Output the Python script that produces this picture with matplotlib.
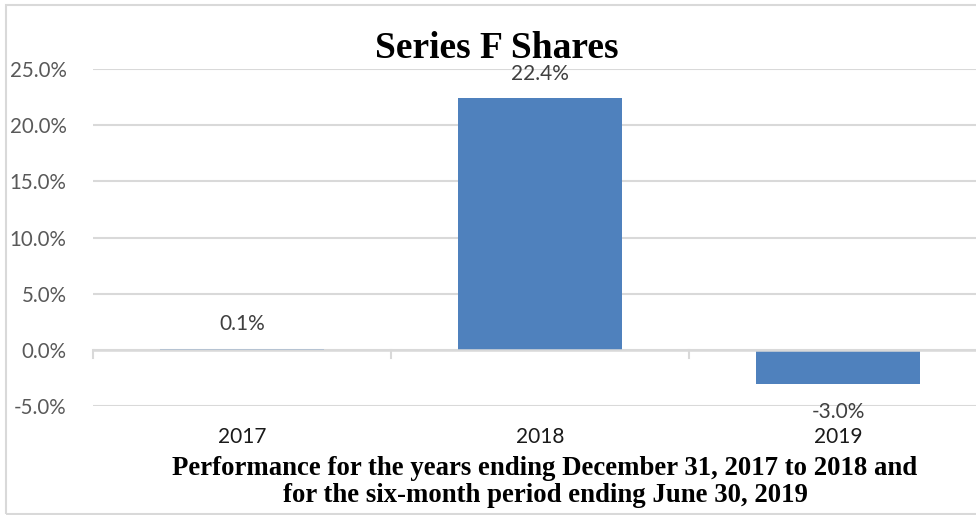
import matplotlib
matplotlib.use("Agg")
import matplotlib.pyplot as plt
from matplotlib.patches import Rectangle
from matplotlib.ticker import FuncFormatter, MultipleLocator

categories = ["2017", "2018", "2019"]
values = [0.1, 22.4, -3.0]
labels = ["0.1%", "22.4%", "-3.0%"]
title = "Series F Shares"
xlabel = "Performance for the years ending December 31, 2017 to 2018 and\nfor the six-month period ending June 30, 2019"

W, H = 976, 515
fig = plt.figure(figsize=(W / 100, H / 100), dpi=100)
fig.patch.set_facecolor("white")

# figure border
fig.add_artist(Rectangle((6 / W, 1 - 514 / H), (W + 20) / W, (514 - 5) / H,
                         transform=fig.transFigure, fill=False,
                         edgecolor="#D9D9D9", linewidth=1.5))

left = 93 / W
right = 987 / W
bottom = 1 - 406 / H
top = 1 - 69 / H
ax = fig.add_axes([left, bottom, right - left, top - bottom])

grid_color = "#D9D9D9"
tick_font = "Lato"
x = list(range(len(categories)))
ax.bar(x, values, width=0.55, color="#4F81BD", zorder=3)
ax.set_xlim(-0.5, 2.5)
ax.set_ylim(-5, 25)
ax.yaxis.set_major_locator(MultipleLocator(5))
ax.yaxis.set_major_formatter(FuncFormatter(lambda v, p: f"{v:.1f}%"))
ax.grid(axis="y", color=grid_color, linewidth=1.5, zorder=0)
for s in ax.spines.values():
    s.set_visible(False)
ax.tick_params(axis="y", length=0, pad=19, labelsize=14.8, labelcolor="#595959")
for t in ax.get_yticklabels():
    t.set_fontfamily(tick_font)

# zero axis line with category boundary ticks
ax.axhline(0, color=grid_color, linewidth=1.8, zorder=4)
for b in [-0.5, 0.5, 1.5, 2.5]:
    ax.plot([b, b], [0, -0.75], color=grid_color, linewidth=1.5, zorder=2, clip_on=False)

ax.set_xticks([])
trans = ax.get_xaxis_transform()
for i, c in enumerate(categories):
    ax.text(i, 1 - (437 - 69) / (406 - 69), c, transform=trans, ha="center", va="center",
            fontsize=15, color="#1a1a1a", family=tick_font)

# data labels
offsets = [25, 24, -28]
for i, (v, lab, off) in enumerate(zip(values, labels, offsets)):
    ax.annotate(lab, (i, v), xytext=(0, off), textcoords="offset pixels",
                ha="center", va="center", fontsize=15, color="#404040",
                family=tick_font, annotation_clip=False)

fig.text(497 / W, 1 - 48 / H, title, ha="center", va="center",
         fontsize=27, fontweight="bold", family="Liberation Serif", color="black")
fig.text(545 / W, 1 - 482 / H, xlabel, ha="center", va="center",
         fontsize=19.3, fontweight="bold", family="Liberation Serif", color="black",
         linespacing=1.12)

fig.savefig("out.png", dpi=100)
